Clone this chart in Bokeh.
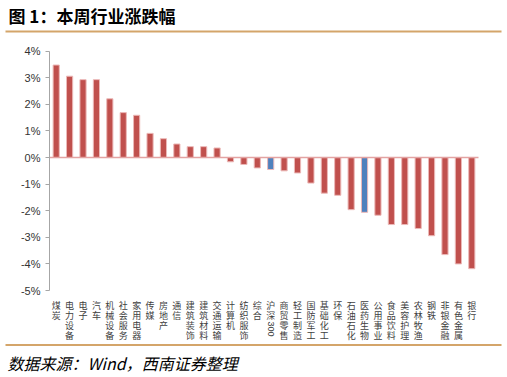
import re
from math import pi
from bokeh.plotting import figure
from bokeh.models import (Range1d, Label, FixedTicker, PrintfTickFormatter,
                          ColumnDataSource)
from bokeh.layouts import column
from bokeh.core.properties import value
from bokeh.embed import file_html
from bokeh.resources import INLINE

# ---------------- data ----------------
title_text = "图 1：本周行业涨跌幅"
source_text = "数据来源：Wind，西南证券整理"

categories = ["煤炭", "电力设备", "电子", "汽车", "机械设备", "社会服务", "家用电器",
              "传媒", "房地产", "通信", "建筑装饰", "建筑材料", "交通运输", "计算机",
              "纺织服饰", "综合", "沪深300", "商贸零售", "轻工制造", "国防军工",
              "基础化工", "环保", "石油石化", "医药生物", "公用事业", "食品饮料",
              "美容护理", "农林牧渔", "钢铁", "非银金融", "有色金属", "银行"]
changes = [3.48, 3.06, 2.93, 2.93, 2.21, 1.69, 1.59, 0.91, 0.71, 0.51, 0.41, 0.41,
           0.36, -0.16, -0.26, -0.39, -0.45, -0.50, -0.58, -0.96, -1.34, -1.42,
           -1.96, -2.06, -2.17, -2.52, -2.52, -2.67, -2.94, -3.65, -4.00, -4.18]
highlight = ["沪深300", "医药生物"]
y_ticks = [-5, -4, -3, -2, -1, 0, 1, 2, 3, 4]

# ---------------- styles / geometry (pixels) ----------------
W = 505
HEAD_H, MAIN_H, FOOT_H = 38, 304, 33
PLOT_LEFT, PLOT_RIGHT = 49, 478          # x of category axis ends
PLOT_TOP, PLOT_BOTTOM = 12.7, 252.0      # y of top / bottom tick inside main
RED = "#C0504D"
BLUE = "#4F81BD"
GOLD = "#D4A56A"
CJK = "Noto Sans CJK SC"
LAB_SIZE = 9
LAB_LH = 0.78
ROW = 10.7
LAB_OFF = 8.5


def blank(h):
    f = figure(width=W, height=h, x_range=Range1d(0, W), y_range=Range1d(h, 0),
               output_backend="svg", toolbar_location=None, min_border=0,
               x_axis_location=None, y_axis_location=None)
    f.grid.visible = False
    f.outline_line_color = None
    return f


# ---------------- header ----------------
header = blank(HEAD_H)
header.segment(x0=[5], y0=[31], x1=[501], y1=[31], line_color=GOLD, line_width=2)
header.add_layout(Label(x=8, y=14.5, text=title_text, text_font=CJK,
                        text_font_style="bold", text_font_size="17px",
                        text_baseline="middle", text_color="#000000"))

# ---------------- main chart ----------------
n = len(categories)
xs = list(range(n))
colors = [BLUE if c in highlight else RED for c in categories]
src = ColumnDataSource(dict(x=xs, cat=categories, chg=changes, color=colors))

step = (PLOT_RIGHT - PLOT_LEFT) / n
x0 = -0.5 - PLOT_LEFT / step
x1 = x0 + W / step
ppu = (PLOT_BOTTOM - PLOT_TOP) / (y_ticks[-1] - y_ticks[0])
y1 = y_ticks[-1] + PLOT_TOP / ppu
y0 = y1 - MAIN_H / ppu

p = figure(width=W, height=MAIN_H, x_range=Range1d(x0, x1), y_range=Range1d(y0, y1),
           output_backend="svg", toolbar_location=None, x_axis_location=None,
           title=None, min_border=0)
p.grid.visible = False
p.outline_line_color = None

p.vbar(x="x", top="chg", bottom=0, width=0.46, fill_color="color",
       line_color="#ecb9b8", line_width=1, source=src)

# category axis line at zero
p.segment(x0=[-0.5], y0=[0], x1=[n - 0.5], y1=[0], line_color="#E3A3A2",
          line_width=1.5)

ax = p.yaxis[0]
ax.fixed_location = -0.5
ax.ticker = FixedTicker(ticks=y_ticks)
ax.formatter = PrintfTickFormatter(format="%d%%")
ax.bounds = (y_ticks[0], y_ticks[-1])
ax.axis_line_color = "#A6A6A6"
ax.major_tick_line_color = "#A6A6A6"
ax.minor_tick_line_color = None
ax.major_tick_in = 0
ax.major_tick_out = 4
ax.major_label_standoff = 5
ax.major_label_text_font = "Liberation Sans"
ax.major_label_text_font_size = "11px"
ax.major_label_text_color = "#333333"

# vertical category labels (CJK stacked, digits rotated)
main_lab = []
digit_x, digit_txt, digit_lines = [], [], []
for i, c in enumerate(categories):
    m = re.match(r"^(\D*)(\d*)$", c)
    main_lab.append("\n".join(m.group(1)))
    if m.group(2):
        digit_x.append(i)
        digit_txt.append(m.group(2))
        digit_lines.append(len(m.group(1)))

p.text(x=xs, y=[y_ticks[0]] * n, text=main_lab, y_offset=LAB_OFF,
       text_align="center", text_baseline="top", text_font=value(CJK),
       text_font_size=f"{LAB_SIZE}px", text_line_height=LAB_LH,
       text_color="#404040")
if digit_x:
    p.text(x=digit_x, y=[y_ticks[0]] * len(digit_x), text=digit_txt,
           y_offset=[LAB_OFF + 1 + k * ROW for k in digit_lines],
           angle=-pi / 2, text_align="left", text_baseline="middle",
           text_font=value("Liberation Sans"), text_font_size=f"{LAB_SIZE}px",
           text_color="#404040")

# ---------------- footer ----------------
footer = blank(FOOT_H)
footer.segment(x0=[5], y0=[2.5], x1=[501], y1=[2.5], line_color=GOLD, line_width=2)
footer.add_layout(Label(x=7, y=20.5, text=source_text, text_font=CJK,
                        text_font_style="italic", text_font_size="16px",
                        text_baseline="middle", text_color="#000000"))

layout = column(header, p, footer)
open("out.html", "w").write(file_html(layout, INLINE))
